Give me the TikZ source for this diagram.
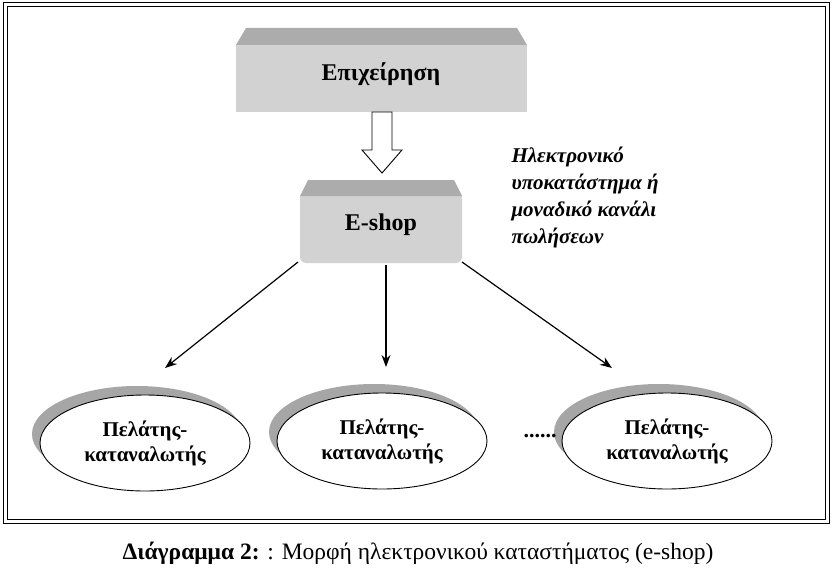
\documentclass[tikz,border=0pt]{standalone}
\usepackage{fontspec}
\setmainfont{Liberation Serif}
\usetikzlibrary{shapes.geometric,arrows.meta}
\begin{document}
\begin{tikzpicture}[x=1pt,y=-1pt,
  lbl/.style={font=\bfseries\fontsize{24}{28}\selectfont},
  ell/.style={ellipse,draw,line width=0.9pt,fill=white,inner sep=0pt,minimum width=210pt,minimum height=96pt,align=center,font=\bfseries\fontsize{21}{25}\selectfont},
  shad/.style={ellipse,fill=gray!70,inner sep=0pt,minimum width=210pt,minimum height=96pt},
  conn/.style={-{Stealth[length=12pt,width=9pt]},line width=1.2pt}]
\useasboundingbox (0,0) rectangle (832,575);
\fill[white] (0,0) rectangle (832,575);
\draw[line width=1pt] (3,3) rectangle (829,523);
\draw[line width=1pt] (7,7) rectangle (825,519);
% top box
\fill[gray!35] (236,45) rectangle (527,112);
\fill[gray!65] (236,45) -- (246,28) -- (517,28) -- (527,45) -- cycle;
\node[lbl] (ent) at (381,74) {Επιχείρηση};
% e-shop
\fill[gray!35,rounded corners=6pt] (300,192) rectangle (462,263);
\fill[gray!65] (300,196) -- (308,180) -- (454,180) -- (462,196) -- cycle;
\node[lbl] (shop) at (381,225) {E-shop};
% hollow arrow
\draw[fill=white,line width=0.9pt] (372,112) -- (392,112) -- (392,150) -- (402,150) -- (382,173) -- (362,150) -- (372,150) -- cycle;
\node[align=left,anchor=north west,font=\bfseries\itshape\fontsize{21}{27}\selectfont] (txt) at (508,143) {Ηλεκτρονικό\\υποκατάστημα ή\\μοναδικό κανάλι\\πωλήσεων};
% ellipses
\node[shad] at (137,434) {};
\node[ell] (c1) at (145,443) {Πελάτης-\\καταναλωτής};
\node[shad] at (374,432) {};
\node[ell] (c2) at (382,441) {Πελάτης-\\καταναλωτής};
\node[shad] at (659,432) {};
\node[ell] (c3) at (667,441) {Πελάτης-\\καταναλωτής};
\node[font=\bfseries\fontsize{22}{24}\selectfont] (dots) at (540,436) {......};
\coordinate (s1) at (298,262);
\coordinate (s2) at (386,265);
\coordinate (s3) at (462,262);
\coordinate (e1) at (165,368);
\coordinate (e2) at (386,367);
\coordinate (e3) at (612,368);
\draw[conn] (s1) -- (e1);
\draw[conn] (s2) -- (e2);
\draw[conn] (s3) -- (e3);
\node[font=\fontsize{23.5}{26}\selectfont] (cap) at (418,553) {\textbf{Διάγραμμα 2:} : Μορφή ηλεκτρονικού καταστήματος (e-shop)};
\end{tikzpicture}
\end{document}
